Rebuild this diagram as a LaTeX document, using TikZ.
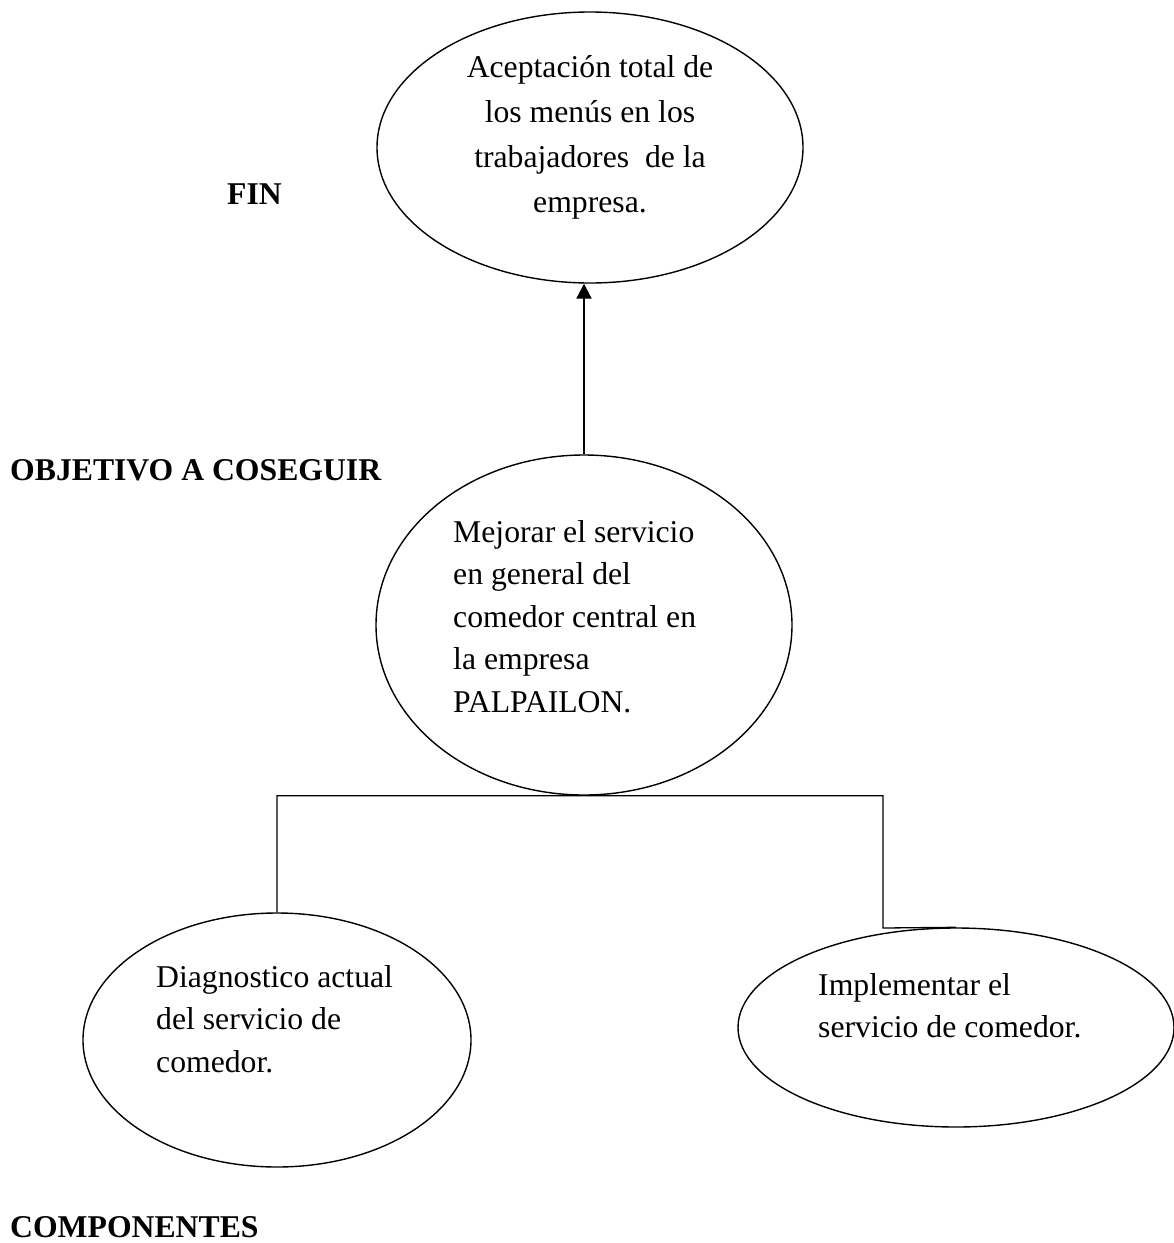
\documentclass[tikz,border=0pt]{standalone}
\usepackage{fontspec}
\setmainfont{Liberation Serif}
\usetikzlibrary{shapes.geometric,arrows.meta}
\newcommand{\cln}[1]{\hbox to 0pt{\hss #1\hss}}
\begin{document}
\begin{tikzpicture}[x=1pt,y=-1pt,
  oval/.style={draw, ellipse, line width=1.4pt, inner sep=0pt},
  txt/.style={inner sep=0pt, anchor=base west, font=\fontsize{31.7}{42.5}\selectfont},
  lbl/.style={inner sep=0pt, anchor=base west, font=\fontsize{31.7}{42.5}\selectfont\bfseries},
  conn/.style={line width=1.3pt},
  arr/.style={line width=2.2pt, -{Triangle[width=15pt,length=15pt]}}]
\useasboundingbox (0,0) rectangle (1174,1243);
% ellipses
\node[oval, minimum width=426pt, minimum height=271pt] (top) at (590,147.5) {};
\node[oval, minimum width=416pt, minimum height=340pt] (mid) at (584,625) {};
\node[oval, minimum width=388pt, minimum height=254pt] (left) at (277,1040) {};
\node[oval, minimum width=436pt, minimum height=199pt] (right) at (956,1027.5) {};
% texts
\node[inner sep=0pt, anchor=base, font=\fontsize{31.7}{45}\selectfont] (toptxt) at (590,77)
  {\vtop{\cln{Aceptación total de}\cln{los menús en los}\cln{trabajadores\ \ de la}\cln{empresa.}}};
\node[txt] (midtxt) at (453,542)
  {\vtop{\hbox{Mejorar el servicio}\hbox{en general del}\hbox{comedor central en}\hbox{la empresa}\hbox{PALPAILON.}}};
\node[txt] (lefttxt) at (156,987)
  {\vtop{\hbox{Diagnostico actual}\hbox{del servicio de}\hbox{comedor.}}};
\node[txt, font=\fontsize{31.7}{42}\selectfont] (righttxt) at (818,995)
  {\vtop{\hbox{Implementar el}\hbox{servicio de comedor.}}};
% labels
\node[lbl] (fin) at (227,204) {FIN};
\node[lbl] (obj) at (10,480) {OBJETIVO A COSEGUIR};
\node[lbl] (comp) at (10,1237) {COMPONENTES};
% connectors
\coordinate (rbend) at (883,928);
\draw[arr] (mid.north) -- (mid.north |- top.south);
\draw[conn] (left.north) |- (rbend |- mid.south) -- (rbend) -- (right.north);
\end{tikzpicture}
\end{document}
